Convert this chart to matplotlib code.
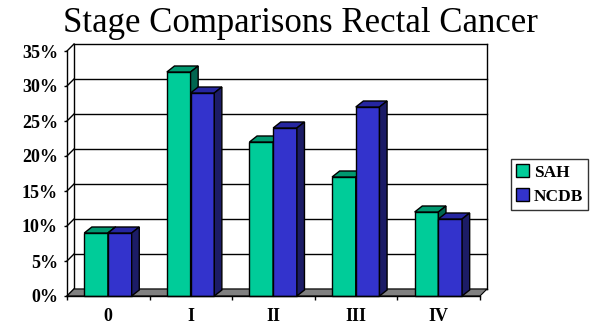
import matplotlib
matplotlib.use("Agg")
import matplotlib.pyplot as plt
from matplotlib.patches import Polygon, Rectangle

categories = ["0", "I", "II", "III", "IV"]
sah = [9, 32, 22, 17, 12]
ncdb = [9, 29, 24, 27, 11]
series_names = ["SAH", "NCDB"]
yticks = [0, 5, 10, 15, 20, 25, 30, 35]
ytick_labels = ["0%", "5%", "10%", "15%", "20%", "25%", "30%", "35%"]

W, H = 592, 325
fig = plt.figure(figsize=(W / 100, H / 100), dpi=100)
fig.patch.set_facecolor("white")

# front plane of the plot in pixels
x0, x1 = 67, 480
yb, yt = 296, 51
ax = fig.add_axes([x0 / W, (H - yb) / H, (x1 - x0) / W, (yb - yt) / H])
ax.set_xlim(0, 5)
ax.set_ylim(0, 35)
ax.set_facecolor("none")

ppx = (x1 - x0) / 5.0      # px per category
ppy = (yb - yt) / 35.0     # px per percent
wdx, wdy = 7 / ppx, 7 / ppy      # wall depth
bdx, bdy = 7.6 / ppx, 6 / ppy    # bar depth

serif = ["Liberation Serif", "DejaVu Serif"]

# back wall gridlines and frame
for v in yticks:
    ax.plot([0, wdx], [v, v + wdy], color="black", lw=1, clip_on=False, zorder=1)
    ax.plot([wdx, 5 + wdx], [v + wdy, v + wdy], color="black", lw=1, clip_on=False, zorder=1)
ax.plot([wdx, wdx], [wdy, 35 + wdy], color="black", lw=1, clip_on=False, zorder=1)
ax.plot([5 + wdx, 5 + wdx], [wdy, 35 + wdy], color="black", lw=1, clip_on=False, zorder=1)

# floor
ax.add_patch(Polygon([(0, 0), (5, 0), (5 + wdx, wdy), (wdx, wdy)], closed=True,
                     facecolor="#808080", edgecolor="black", lw=0.8, clip_on=False, zorder=2))

bw = 0.287
offs = [0.209, 0.496]
cols = [("#00CC99", "#009970", "#006650"), ("#3333CC", "#2626A0", "#1C1C66")]

for i in range(len(categories)):
    for s, vals in enumerate([sah, ncdb]):
        left = i + offs[s]
        h = vals[i]
        front, top, side = cols[s]
        z = 3 + s
        ax.add_patch(Polygon([(left, 0), (left + bw, 0), (left + bw, h), (left, h)], closed=True,
                             facecolor=front, edgecolor="black", lw=1, clip_on=False, zorder=z))
        ax.add_patch(Polygon([(left, h), (left + bw, h), (left + bw + bdx, h + bdy), (left + bdx, h + bdy)],
                             closed=True, facecolor=top, edgecolor="black", lw=1, clip_on=False, zorder=z))
        ax.add_patch(Polygon([(left + bw, 0), (left + bw + bdx, bdy), (left + bw + bdx, h + bdy), (left + bw, h)],
                             closed=True, facecolor=side, edgecolor="black", lw=1, clip_on=False, zorder=z))

# axes
for sp in ["top", "right"]:
    ax.spines[sp].set_visible(False)
for sp in ["left", "bottom"]:
    ax.spines[sp].set_linewidth(1)
    ax.spines[sp].set_zorder(10)
ax.set_yticks(yticks)
ax.set_yticklabels(ytick_labels, fontfamily=serif, fontweight="bold", fontsize=13)
ax.tick_params(axis="y", direction="out", length=2.5, width=1, pad=4)
ax.set_xticks(range(6))
ax.set_xticklabels([])
ax.set_xticks([i + 0.5 for i in range(5)], minor=True)
ax.set_xticklabels(categories, minor=True, fontfamily=serif, fontweight="bold", fontsize=13)
ax.tick_params(axis="x", which="major", direction="out", length=3, width=1)
ax.tick_params(axis="x", which="minor", length=0, pad=8.5)

# title
fig.text(300 / W, 1 - 32 / H, "Stage Comparisons Rectal Cancer", ha="center", va="baseline",
         fontfamily=serif, fontsize=25)

# legend
handles = [Rectangle((0, 0), 1, 1, facecolor=cols[k][0], edgecolor="black", lw=1) for k in range(2)]
leg = fig.legend(handles, series_names, loc="upper left", bbox_to_anchor=(511 / W, 1 - 159 / H),
                 frameon=True, fancybox=False, shadow=False, borderpad=0.3, handlelength=0.75,
                 handleheight=0.75, handletextpad=0.25, labelspacing=0.45, borderaxespad=0,
                 prop={"family": serif, "weight": "bold", "size": 12.5})
leg.get_frame().set_edgecolor("black")
leg.get_frame().set_linewidth(1)

fig.savefig("out.png", dpi=100)
